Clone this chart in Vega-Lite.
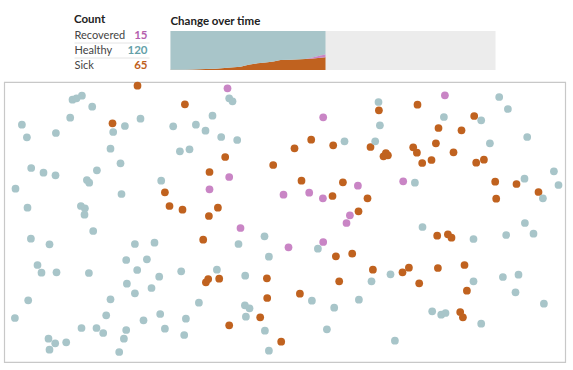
{
  "$schema": "https://vega.github.io/schema/vega-lite/v6.json",
  "padding": {"top": 14, "left": 3, "right": 5, "bottom": 5},
  "background": "white",
  "config": {
    "view": {"stroke": null},
    "font": "Lato",
    "title": {"font": "Lato", "fontSize": 11.5, "fontWeight": "bold", "color": "#222222", "anchor": "start", "offset": 4}
  },
  "datasets": {
    "counts": [
      {"status": "Recovered", "count": 15},
      {"status": "Healthy", "count": 120},
      {"status": "Sick", "count": 65}
    ],
    "timeline": [
      {"t": 0, "status": "Sick", "n": 1}, {"t": 0, "status": "Healthy", "n": 199}, {"t": 0, "status": "Recovered", "n": 0},
      {"t": 15, "status": "Sick", "n": 1}, {"t": 15, "status": "Healthy", "n": 199}, {"t": 15, "status": "Recovered", "n": 0},
      {"t": 22, "status": "Sick", "n": 2}, {"t": 22, "status": "Healthy", "n": 198}, {"t": 22, "status": "Recovered", "n": 0},
      {"t": 35, "status": "Sick", "n": 5}, {"t": 35, "status": "Healthy", "n": 195}, {"t": 35, "status": "Recovered", "n": 0},
      {"t": 45, "status": "Sick", "n": 7}, {"t": 45, "status": "Healthy", "n": 193}, {"t": 45, "status": "Recovered", "n": 0},
      {"t": 57, "status": "Sick", "n": 11}, {"t": 57, "status": "Healthy", "n": 189}, {"t": 57, "status": "Recovered", "n": 0},
      {"t": 70, "status": "Sick", "n": 17}, {"t": 70, "status": "Healthy", "n": 183}, {"t": 70, "status": "Recovered", "n": 0},
      {"t": 78, "status": "Sick", "n": 27}, {"t": 78, "status": "Healthy", "n": 173}, {"t": 78, "status": "Recovered", "n": 0},
      {"t": 87, "status": "Sick", "n": 34}, {"t": 87, "status": "Healthy", "n": 166}, {"t": 87, "status": "Recovered", "n": 0},
      {"t": 95, "status": "Sick", "n": 38}, {"t": 95, "status": "Healthy", "n": 162}, {"t": 95, "status": "Recovered", "n": 0},
      {"t": 103, "status": "Sick", "n": 43}, {"t": 103, "status": "Healthy", "n": 157}, {"t": 103, "status": "Recovered", "n": 0},
      {"t": 110, "status": "Sick", "n": 51}, {"t": 110, "status": "Healthy", "n": 149}, {"t": 110, "status": "Recovered", "n": 0},
      {"t": 120, "status": "Sick", "n": 53}, {"t": 120, "status": "Healthy", "n": 147}, {"t": 120, "status": "Recovered", "n": 0},
      {"t": 130, "status": "Sick", "n": 55}, {"t": 130, "status": "Healthy", "n": 145}, {"t": 130, "status": "Recovered", "n": 0},
      {"t": 135, "status": "Sick", "n": 56}, {"t": 135, "status": "Healthy", "n": 144}, {"t": 135, "status": "Recovered", "n": 0},
      {"t": 140, "status": "Sick", "n": 58}, {"t": 140, "status": "Healthy", "n": 138}, {"t": 140, "status": "Recovered", "n": 4},
      {"t": 145, "status": "Sick", "n": 60}, {"t": 145, "status": "Healthy", "n": 132}, {"t": 145, "status": "Recovered", "n": 8},
      {"t": 150, "status": "Sick", "n": 63}, {"t": 150, "status": "Healthy", "n": 125}, {"t": 150, "status": "Recovered", "n": 12},
      {"t": 155, "status": "Sick", "n": 65}, {"t": 155, "status": "Healthy", "n": 120}, {"t": 155, "status": "Recovered", "n": 15}
    ],
    "people": [
      {"x": 223.3, "y": 6.3, "status": "Recovered"}, {"x": 225, "y": 95, "status": "Recovered"}, {"x": 205.3, "y": 107.3, "status": "Recovered"},
      {"x": 319, "y": 35.3, "status": "Recovered"}, {"x": 279.3, "y": 112.7, "status": "Recovered"}, {"x": 305, "y": 110.7, "status": "Recovered"},
      {"x": 318.7, "y": 116.3, "status": "Recovered"}, {"x": 353.7, "y": 103.7, "status": "Recovered"}, {"x": 345.7, "y": 133.3, "status": "Recovered"},
      {"x": 342.3, "y": 141, "status": "Recovered"}, {"x": 440.7, "y": 13.3, "status": "Recovered"}, {"x": 399, "y": 99.3, "status": "Recovered"},
      {"x": 236.3, "y": 146, "status": "Recovered"}, {"x": 284.3, "y": 165.3, "status": "Recovered"}, {"x": 319, "y": 160, "status": "Recovered"},

      {"x": 133.3, "y": 3.7, "status": "Sick"}, {"x": 180.7, "y": 22.3, "status": "Sick"}, {"x": 108.3, "y": 41.3, "status": "Sick"},
      {"x": 160.7, "y": 110.3, "status": "Sick"}, {"x": 165.3, "y": 124, "status": "Sick"}, {"x": 178.3, "y": 127.7, "status": "Sick"},
      {"x": 221, "y": 75, "status": "Sick"}, {"x": 205.3, "y": 90, "status": "Sick"}, {"x": 213.7, "y": 125.7, "status": "Sick"},
      {"x": 204.7, "y": 134, "status": "Sick"}, {"x": 269, "y": 83, "status": "Sick"}, {"x": 290.3, "y": 66.3, "status": "Sick"},
      {"x": 307, "y": 57.7, "status": "Sick"}, {"x": 329, "y": 63.3, "status": "Sick"}, {"x": 366.3, "y": 65, "status": "Sick"},
      {"x": 374.7, "y": 28.3, "status": "Sick"}, {"x": 297.3, "y": 98.7, "status": "Sick"}, {"x": 328.3, "y": 114, "status": "Sick"},
      {"x": 338.7, "y": 100.3, "status": "Sick"}, {"x": 363.3, "y": 116.3, "status": "Sick"}, {"x": 354.3, "y": 129.3, "status": "Sick"},
      {"x": 413.3, "y": 22.7, "status": "Sick"}, {"x": 470, "y": 34, "status": "Sick"}, {"x": 434.3, "y": 46, "status": "Sick"},
      {"x": 457.3, "y": 48.3, "status": "Sick"}, {"x": 431.7, "y": 61.3, "status": "Sick"}, {"x": 409, "y": 65.3, "status": "Sick"},
      {"x": 412.7, "y": 70.7, "status": "Sick"}, {"x": 379.3, "y": 74.3, "status": "Sick"}, {"x": 381.7, "y": 71, "status": "Sick"},
      {"x": 383.7, "y": 73.3, "status": "Sick"}, {"x": 418, "y": 81, "status": "Sick"}, {"x": 427.3, "y": 78, "status": "Sick"},
      {"x": 449.3, "y": 70.3, "status": "Sick"}, {"x": 472, "y": 80.7, "status": "Sick"}, {"x": 479.7, "y": 77.7, "status": "Sick"},
      {"x": 491, "y": 99.7, "status": "Sick"}, {"x": 512.3, "y": 102, "status": "Sick"}, {"x": 534.3, "y": 110, "status": "Sick"},
      {"x": 492, "y": 116.7, "status": "Sick"}, {"x": 199, "y": 157.7, "status": "Sick"}, {"x": 331.7, "y": 174.3, "status": "Sick"},
      {"x": 348, "y": 171.7, "status": "Sick"}, {"x": 368.7, "y": 187.7, "status": "Sick"}, {"x": 201.7, "y": 200.3, "status": "Sick"},
      {"x": 204, "y": 197, "status": "Sick"}, {"x": 215, "y": 196.7, "status": "Sick"}, {"x": 262.7, "y": 196.3, "status": "Sick"},
      {"x": 335, "y": 199.3, "status": "Sick"}, {"x": 263, "y": 216, "status": "Sick"}, {"x": 295.7, "y": 211.7, "status": "Sick"},
      {"x": 256, "y": 235.3, "status": "Sick"}, {"x": 225, "y": 243.3, "status": "Sick"}, {"x": 277, "y": 259.7, "status": "Sick"},
      {"x": 433, "y": 153.7, "status": "Sick"}, {"x": 443.7, "y": 152.3, "status": "Sick"}, {"x": 447.3, "y": 155.7, "status": "Sick"},
      {"x": 404.7, "y": 185.7, "status": "Sick"}, {"x": 398.3, "y": 190.3, "status": "Sick"}, {"x": 433.7, "y": 186, "status": "Sick"},
      {"x": 460.3, "y": 183, "status": "Sick"}, {"x": 415, "y": 201.3, "status": "Sick"}, {"x": 462.7, "y": 208.7, "status": "Sick"},
      {"x": 456, "y": 230, "status": "Sick"}, {"x": 458.7, "y": 235.3, "status": "Sick"},

      {"x": 68.3, "y": 17.7, "status": "Healthy"}, {"x": 72.3, "y": 16.3, "status": "Healthy"}, {"x": 77.7, "y": 13.7, "status": "Healthy"},
      {"x": 88, "y": 24.7, "status": "Healthy"}, {"x": 66, "y": 35.7, "status": "Healthy"}, {"x": 109, "y": 50, "status": "Healthy"},
      {"x": 120.7, "y": 44, "status": "Healthy"}, {"x": 136.3, "y": 36.7, "status": "Healthy"}, {"x": 169, "y": 44.3, "status": "Healthy"},
      {"x": 191.7, "y": 42.7, "status": "Healthy"}, {"x": 17.7, "y": 42.7, "status": "Healthy"}, {"x": 22.7, "y": 55.3, "status": "Healthy"},
      {"x": 51.7, "y": 51, "status": "Healthy"}, {"x": 106.3, "y": 66.7, "status": "Healthy"}, {"x": 175.7, "y": 69.3, "status": "Healthy"},
      {"x": 185.3, "y": 67.3, "status": "Healthy"}, {"x": 27, "y": 86, "status": "Healthy"}, {"x": 39.3, "y": 90.7, "status": "Healthy"},
      {"x": 51.3, "y": 93.3, "status": "Healthy"}, {"x": 92.7, "y": 88.3, "status": "Healthy"}, {"x": 116.3, "y": 81.3, "status": "Healthy"},
      {"x": 82.7, "y": 98, "status": "Healthy"}, {"x": 85, "y": 100.7, "status": "Healthy"}, {"x": 11.3, "y": 106.7, "status": "Healthy"},
      {"x": 157, "y": 98.7, "status": "Healthy"}, {"x": 117.3, "y": 112, "status": "Healthy"}, {"x": 23.3, "y": 125.7, "status": "Healthy"},
      {"x": 76.7, "y": 124, "status": "Healthy"}, {"x": 80.7, "y": 126.3, "status": "Healthy"}, {"x": 80.3, "y": 132.7, "status": "Healthy"},
      {"x": 225, "y": 16.3, "status": "Healthy"}, {"x": 228.3, "y": 19.3, "status": "Healthy"}, {"x": 208.3, "y": 33.7, "status": "Healthy"},
      {"x": 201.3, "y": 48.7, "status": "Healthy"}, {"x": 217, "y": 55, "status": "Healthy"}, {"x": 233, "y": 58, "status": "Healthy"},
      {"x": 340.3, "y": 59.3, "status": "Healthy"}, {"x": 371, "y": 59.3, "status": "Healthy"}, {"x": 374.3, "y": 20, "status": "Healthy"},
      {"x": 375.7, "y": 43.3, "status": "Healthy"}, {"x": 495, "y": 15, "status": "Healthy"}, {"x": 503.7, "y": 27, "status": "Healthy"},
      {"x": 439.7, "y": 35, "status": "Healthy"}, {"x": 477, "y": 38.3, "status": "Healthy"}, {"x": 523, "y": 55, "status": "Healthy"},
      {"x": 485.7, "y": 61.3, "status": "Healthy"}, {"x": 410.7, "y": 100.7, "status": "Healthy"}, {"x": 520.3, "y": 96.7, "status": "Healthy"},
      {"x": 549.7, "y": 89.3, "status": "Healthy"}, {"x": 554.3, "y": 103, "status": "Healthy"}, {"x": 538.7, "y": 116.3, "status": "Healthy"},
      {"x": 520.7, "y": 141, "status": "Healthy"}, {"x": 89, "y": 149, "status": "Healthy"}, {"x": 26.7, "y": 156.7, "status": "Healthy"},
      {"x": 45.3, "y": 162.3, "status": "Healthy"}, {"x": 130.7, "y": 162, "status": "Healthy"}, {"x": 150.3, "y": 160.7, "status": "Healthy"},
      {"x": 33.3, "y": 183, "status": "Healthy"}, {"x": 37.3, "y": 190.7, "status": "Healthy"}, {"x": 52.3, "y": 190.3, "status": "Healthy"},
      {"x": 84.7, "y": 191, "status": "Healthy"}, {"x": 122, "y": 178, "status": "Healthy"}, {"x": 142.7, "y": 177.3, "status": "Healthy"},
      {"x": 133, "y": 188, "status": "Healthy"}, {"x": 177, "y": 189.3, "status": "Healthy"}, {"x": 155, "y": 194.7, "status": "Healthy"},
      {"x": 122.7, "y": 201.7, "status": "Healthy"}, {"x": 147.3, "y": 206, "status": "Healthy"}, {"x": 130.7, "y": 211.3, "status": "Healthy"},
      {"x": 24, "y": 218.3, "status": "Healthy"}, {"x": 106.3, "y": 217.3, "status": "Healthy"}, {"x": 10.7, "y": 236, "status": "Healthy"},
      {"x": 102, "y": 233.3, "status": "Healthy"}, {"x": 156, "y": 232, "status": "Healthy"}, {"x": 139.3, "y": 238.3, "status": "Healthy"},
      {"x": 181.7, "y": 236.7, "status": "Healthy"}, {"x": 77.3, "y": 246, "status": "Healthy"}, {"x": 92.3, "y": 246, "status": "Healthy"},
      {"x": 99, "y": 251, "status": "Healthy"}, {"x": 122, "y": 248, "status": "Healthy"}, {"x": 160.7, "y": 246.7, "status": "Healthy"},
      {"x": 180, "y": 253, "status": "Healthy"}, {"x": 44.3, "y": 256.7, "status": "Healthy"}, {"x": 51, "y": 261.3, "status": "Healthy"},
      {"x": 45.3, "y": 267.7, "status": "Healthy"}, {"x": 62, "y": 260.3, "status": "Healthy"}, {"x": 119.7, "y": 256.7, "status": "Healthy"},
      {"x": 115, "y": 270, "status": "Healthy"}, {"x": 260.3, "y": 154.3, "status": "Healthy"}, {"x": 234.3, "y": 162, "status": "Healthy"},
      {"x": 264.7, "y": 174.7, "status": "Healthy"}, {"x": 313.7, "y": 166.7, "status": "Healthy"}, {"x": 367.3, "y": 199.3, "status": "Healthy"},
      {"x": 212.7, "y": 187.7, "status": "Healthy"}, {"x": 241, "y": 193.7, "status": "Healthy"}, {"x": 194.7, "y": 220.7, "status": "Healthy"},
      {"x": 307.7, "y": 218.7, "status": "Healthy"}, {"x": 330, "y": 225.7, "status": "Healthy"}, {"x": 354.7, "y": 217.7, "status": "Healthy"},
      {"x": 240.7, "y": 223.3, "status": "Healthy"}, {"x": 245.3, "y": 226.3, "status": "Healthy"}, {"x": 241.7, "y": 234.7, "status": "Healthy"},
      {"x": 260.7, "y": 248.7, "status": "Healthy"}, {"x": 322.7, "y": 247.3, "status": "Healthy"}, {"x": 264.7, "y": 268.7, "status": "Healthy"},
      {"x": 418.3, "y": 145, "status": "Healthy"}, {"x": 529.3, "y": 151.7, "status": "Healthy"}, {"x": 469.3, "y": 157, "status": "Healthy"},
      {"x": 502, "y": 153, "status": "Healthy"}, {"x": 386.3, "y": 192.3, "status": "Healthy"}, {"x": 469.3, "y": 199.3, "status": "Healthy"},
      {"x": 498.7, "y": 195, "status": "Healthy"}, {"x": 514.3, "y": 192.7, "status": "Healthy"}, {"x": 511.3, "y": 210.3, "status": "Healthy"},
      {"x": 539.7, "y": 221.7, "status": "Healthy"}, {"x": 428, "y": 229.3, "status": "Healthy"}, {"x": 437, "y": 232.7, "status": "Healthy"},
      {"x": 441.3, "y": 231, "status": "Healthy"}, {"x": 477, "y": 241.7, "status": "Healthy"}, {"x": 390.7, "y": 258.7, "status": "Healthy"}
    ]
  },
  "vconcat": [
    {
      "hconcat": [
        {
          "width": 75,
          "height": 39,
          "title": {"text": "Count"},
          "data": {"name": "counts"},
          "layer": [
            {
              "transform": [{"filter": "datum.status != 'Sick'"}],
              "mark": {"type": "rule", "color": "#e4e4e4", "strokeWidth": 1, "yOffset": 7.5},
              "encoding": {
                "y": {"field": "status", "type": "nominal", "scale": {"type": "point", "domain": ["Recovered", "Healthy", "Sick"], "padding": 0.3}, "axis": null}
              }
            },
            {
              "mark": {"type": "text", "align": "left", "baseline": "middle", "fontSize": 11, "color": "#444444"},
              "encoding": {
                "x": {"value": 0},
                "y": {"field": "status", "type": "nominal", "scale": {"type": "point", "domain": ["Recovered", "Healthy", "Sick"], "padding": 0.3}, "axis": null},
                "text": {"field": "status"}
              }
            },
            {
              "mark": {"type": "text", "align": "right", "baseline": "middle", "fontSize": 11.5, "fontWeight": "bold", "dx": -2},
              "encoding": {
                "x": {"value": "width"},
                "y": {"field": "status", "type": "nominal", "scale": {"type": "point", "domain": ["Recovered", "Healthy", "Sick"], "padding": 0.3}, "axis": null},
                "text": {"field": "count"},
                "color": {"field": "status", "type": "nominal", "scale": {"domain": ["Recovered", "Healthy", "Sick"], "range": ["#b55fae", "#64a0a8", "#bf5f1d"]}, "legend": null}
              }
            }
          ]
        },
        {
          "width": 325,
          "height": 39,
          "title": {"text": "Change over time"},
          "view": {"fill": "#ececec", "stroke": null},
          "data": {"name": "timeline"},
          "mark": {"type": "area", "interpolate": "linear"},
          "encoding": {
            "x": {"field": "t", "type": "quantitative", "scale": {"domain": [0, 325], "nice": false, "zero": false}, "axis": null},
            "y": {"field": "n", "type": "quantitative", "stack": "zero", "scale": {"domain": [0, 200], "nice": false}, "axis": null},
            "color": {"field": "status", "type": "nominal", "sort": ["Sick", "Healthy", "Recovered"], "scale": {"domain": ["Sick", "Healthy", "Recovered"], "range": ["#c0621f", "#a8c5c9", "#c985c5"]}, "legend": null}
          }
        }
      ],
      "spacing": 20,
      "resolve": {"scale": {"color": "independent"}}
    },
    {
      "width": 561,
      "height": 280,
      "view": {"stroke": "#c8c8c8", "strokeWidth": 1.2},
      "data": {"name": "people"},
      "mark": {"type": "circle", "size": 60, "opacity": 1},
      "encoding": {
        "x": {"field": "x", "type": "quantitative", "scale": {"domain": [0, 561], "nice": false, "zero": false}, "axis": null},
        "y": {"field": "y", "type": "quantitative", "scale": {"domain": [0, 280], "reverse": true, "nice": false, "zero": false}, "axis": null},
        "color": {"field": "status", "type": "nominal", "scale": {"domain": ["Recovered", "Healthy", "Sick"], "range": ["#c985c5", "#a8c5c9", "#c0621f"]}, "legend": null}
      }
    }
  ],
  "spacing": 10,
  "center": true,
  "resolve": {"scale": {"color": "independent"}}
}
